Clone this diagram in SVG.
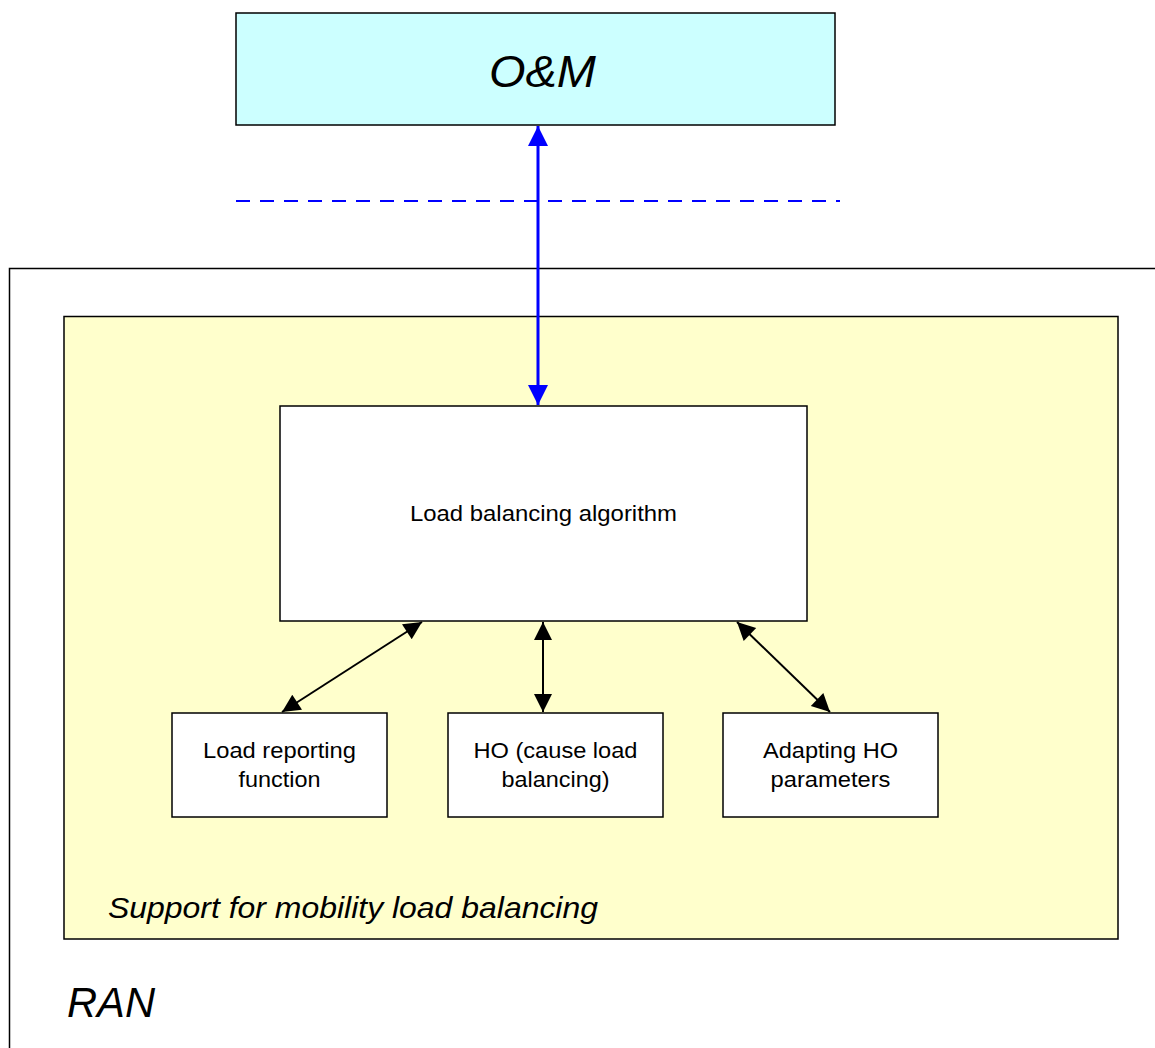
<svg xmlns="http://www.w3.org/2000/svg" width="1155" height="1048" viewBox="0 0 1155 1048">
<style>
text{font-family:"Liberation Sans",Arial,sans-serif;fill:#000}
.box{fill:#fff;stroke:#000;stroke-width:1.5}
.lbl{font-size:22px;text-anchor:middle}
.blk{stroke:#000;stroke-width:2;fill:none;marker-start:url(#ka);marker-end:url(#ka)}
</style>
<defs>
<marker id="ka" viewBox="0 0 10 10" refX="10" refY="5" markerUnits="userSpaceOnUse" markerWidth="26" markerHeight="18" orient="auto-start-reverse"><path d="M0,0L10,5L0,10z" fill="#000"/></marker>
<marker id="ba" viewBox="0 0 10 10" refX="10" refY="5" markerUnits="userSpaceOnUse" markerWidth="28" markerHeight="20" orient="auto-start-reverse"><path d="M0,0L10,5L0,10z" fill="#00f"/></marker>
</defs>
<rect width="1155" height="1048" fill="#fff"/>
<g id="ran">
<path d="M1155,268.5H9.5V1048" fill="none" stroke="#000" stroke-width="1.5"/>
<text x="67" y="1017" font-size="42" font-style="italic" textLength="88" lengthAdjust="spacingAndGlyphs">RAN</text>
</g>
<g id="support">
<rect x="64" y="316.5" width="1054" height="622.5" fill="#ffffcc" stroke="#000" stroke-width="1.5"/>
<text x="108" y="918" font-size="30" font-style="italic" textLength="490" lengthAdjust="spacingAndGlyphs">Support for mobility load balancing</text>
</g>
<g id="om">
<rect x="236" y="13" width="599" height="112" fill="#ccffff" stroke="#000" stroke-width="1.5"/>
<text x="542.5" y="87" font-size="44" font-style="italic" text-anchor="middle" textLength="107" lengthAdjust="spacingAndGlyphs">O&amp;M</text>
</g>
<g id="lba">
<rect class="box" x="280" y="406" width="527" height="215"/>
<text class="lbl" x="543.5" y="521" textLength="267" lengthAdjust="spacingAndGlyphs">Load balancing algorithm</text>
</g>
<g id="lrf">
<rect class="box" x="172" y="713" width="215" height="104"/>
<text class="lbl" x="279.5" y="758" textLength="153" lengthAdjust="spacingAndGlyphs">Load reporting</text>
<text class="lbl" x="279.5" y="787" textLength="82" lengthAdjust="spacingAndGlyphs">function</text>
</g>
<g id="ho">
<rect class="box" x="448" y="713" width="215" height="104"/>
<text class="lbl" x="555.5" y="758" textLength="164" lengthAdjust="spacingAndGlyphs">HO (cause load</text>
<text class="lbl" x="555.5" y="787" textLength="108" lengthAdjust="spacingAndGlyphs">balancing)</text>
</g>
<g id="aho">
<rect class="box" x="723" y="713" width="215" height="104"/>
<text class="lbl" x="830.5" y="758" textLength="135" lengthAdjust="spacingAndGlyphs">Adapting HO</text>
<text class="lbl" x="830.5" y="787" textLength="120" lengthAdjust="spacingAndGlyphs">parameters</text>
</g>
<g id="connectors">
<line x1="236" y1="201" x2="840" y2="201" stroke="#00f" stroke-width="1.8" stroke-dasharray="14,10"/>
<line x1="538" y1="126" x2="538" y2="405" stroke="#00f" stroke-width="3" marker-start="url(#ba)" marker-end="url(#ba)"/>
<line class="blk" x1="282" y1="712" x2="422" y2="622"/>
<line class="blk" x1="543" y1="622" x2="543" y2="712"/>
<line class="blk" x1="737" y1="622" x2="830" y2="712"/>
</g>
</svg>
